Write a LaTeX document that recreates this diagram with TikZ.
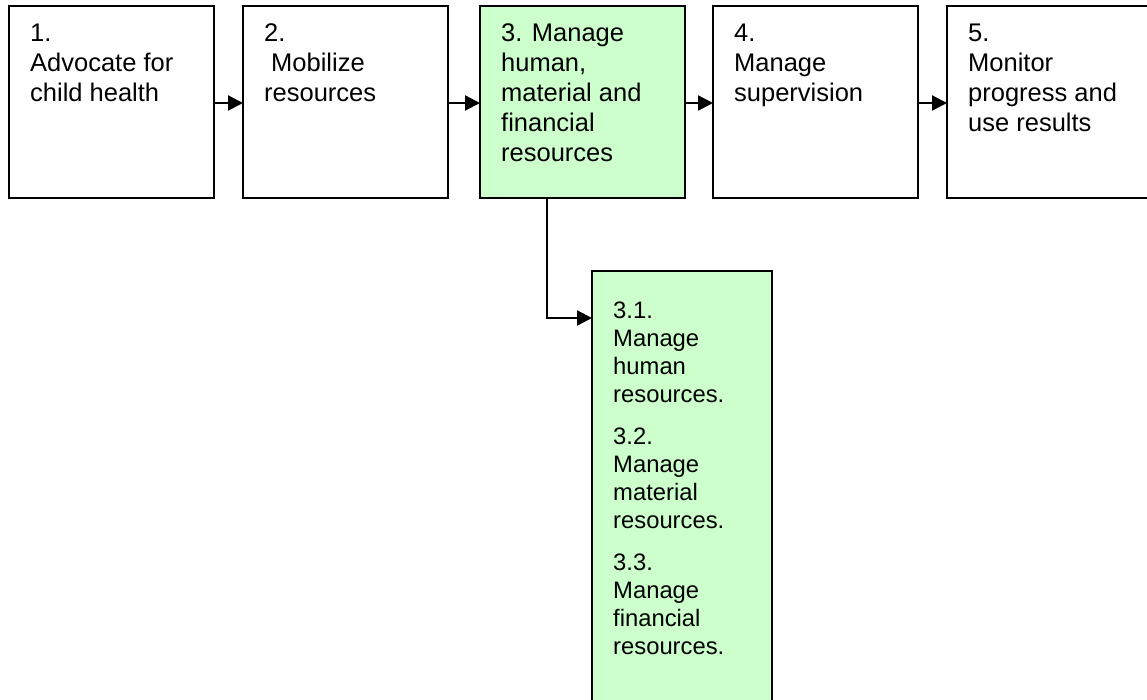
\documentclass[tikz,border=0pt]{standalone}
\usepackage{fontspec}
\setmainfont{Liberation Sans}
\usetikzlibrary{arrows.meta}
\definecolor{stepgreen}{HTML}{CCFFCC}
\tikzset{
  x=1pt, y=1pt,
  stepbox/.style={draw=black, line width=2.2pt, rectangle, inner sep=0pt, outer sep=0pt,
    minimum width=205pt, minimum height=192pt, anchor=north west, fill=white},
  activebox/.style={stepbox, fill=stepgreen},
  subbox/.style={draw=black, line width=2.2pt, rectangle, inner sep=0pt, outer sep=0pt,
    minimum width=180pt, minimum height=470pt, anchor=north west, fill=stepgreen},
  steptext/.style={anchor=north west, inner sep=0pt, align=left, text=black,
    font=\fontsize{25.5}{30}\selectfont},
  subtext/.style={anchor=north west, inner sep=0pt, align=left, text=black,
    font=\fontsize{23.8}{28}\selectfont},
  link/.style={draw=black, line width=2.2pt,
    -{Triangle[length=15pt,width=15pt]}},
}
\begin{document}
\begin{tikzpicture}
\useasboundingbox (0,0) rectangle (1147,-700);

% main row of steps
\node[stepbox]   (b1) at (9,-6)   {};
\node[stepbox]   (b2) at (243,-6) {};
\node[activebox] (b3) at (480,-6) {};
\node[stepbox]   (b4) at (713,-6) {};
\node[stepbox]   (b5) at (947,-6) {};

\node[steptext] (t1) at (30,-23.7)  {1.\\Advocate for\\child health};
\node[steptext] (t2) at (264,-23.7) {2.\\\hspace*{7pt}Mobilize\\resources};
\node[steptext] (t3) at (501,-23.7) {3. Manage\\human,\\material and\\financial\\resources};
\node[steptext] (t4) at (734,-23.7) {4.\\Manage\\supervision};
\node[steptext] (t5) at (968,-23.7) {5.\\Monitor\\progress and\\use results};

% sub-steps of step 3
\node[subbox] (sub) at (592,-271) {};
\node[subtext] (st) at (613,-302) {3.1.\\Manage\\human\\resources.\\[14pt]3.2.\\Manage\\material\\resources.\\[14pt]3.3.\\Manage\\financial\\resources.};

% connectors
\draw[link] ([yshift=-1pt]b1.east) -- ([yshift=-1pt]b2.west);
\draw[link] ([yshift=-1pt]b2.east) -- ([yshift=-1pt]b3.west);
\draw[link] ([yshift=-1pt]b3.east) -- ([yshift=-1pt]b4.west);
\draw[link] ([yshift=-1pt]b4.east) -- ([yshift=-1pt]b5.west);
\draw[link] ([xshift=67pt]b3.south west) |- ([yshift=-47pt]sub.north west);
\end{tikzpicture}
\end{document}
